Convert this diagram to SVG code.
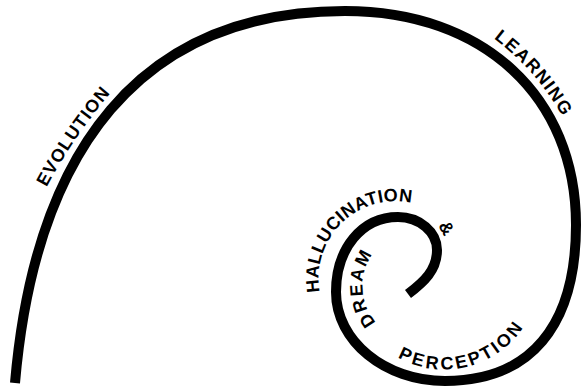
<svg xmlns="http://www.w3.org/2000/svg" xmlns:xlink="http://www.w3.org/1999/xlink" width="582" height="390" viewBox="0 0 582 390">
  <style>
    .spiral { fill: none; stroke: #000; stroke-width: 10; stroke-linecap: butt; }
    .lbl { font-family: "Liberation Sans", Arial, sans-serif; font-weight: bold; font-size: 18px; fill: #000; }
  </style>
  <defs>
    <path id="p-evolution" d="M47,186.6 Q73.8,136.5 110.6,93.2"/>
    <path id="p-learning" d="M495.7,39.9 Q536.3,71 561.8,115.4"/>
    <path id="p-halluc" d="M325.3,309.6 A77,77 0 0 1 429.2,208.9"/>
    <path id="p-dream" d="M392.3,335.3 A55.8,55.8 0 0 1 388.4,238.7"/>
    <path id="p-percep" d="M361.2,320.8 A95,95 0 0 0 539.2,276.1"/>
  </defs>
  <rect width="582" height="390" fill="#fff"/>
  <g id="connectors">
    <path id="spiral" class="spiral" d="M15,383 C35,150 140,11 345,11 C483.6,11 576,96.6 576,225 C576,326.4 530.2,381 445,381 C385,381 336,341 336,292 C336,248.5 362,217 398,217 C419.5,217 437,232 437,250 C437,270 424,282 408,294"/>
  </g>
  <g id="evolution">
    <text class="lbl" letter-spacing="1.1"><textPath href="#p-evolution" startOffset="50%" text-anchor="middle">EVOLUTION</textPath></text>
  </g>
  <g id="learning">
    <text class="lbl" letter-spacing="1.5"><textPath href="#p-learning" startOffset="50%" text-anchor="middle">LEARNING</textPath></text>
  </g>
  <g id="hallucination">
    <text class="lbl" letter-spacing="0.3"><textPath href="#p-halluc" startOffset="50%" text-anchor="middle">HALLUCINATION</textPath></text>
  </g>
  <g id="ampersand">
    <text class="lbl" x="447" y="234.5" text-anchor="middle" transform="rotate(60 447 228)">&amp;</text>
  </g>
  <g id="dream">
    <text class="lbl" letter-spacing="1.8"><textPath href="#p-dream" startOffset="50%" text-anchor="middle">DREAM</textPath></text>
  </g>
  <g id="perception">
    <text class="lbl" letter-spacing="2.7"><textPath href="#p-percep" startOffset="50%" text-anchor="middle">PERCEPTION</textPath></text>
  </g>
</svg>
